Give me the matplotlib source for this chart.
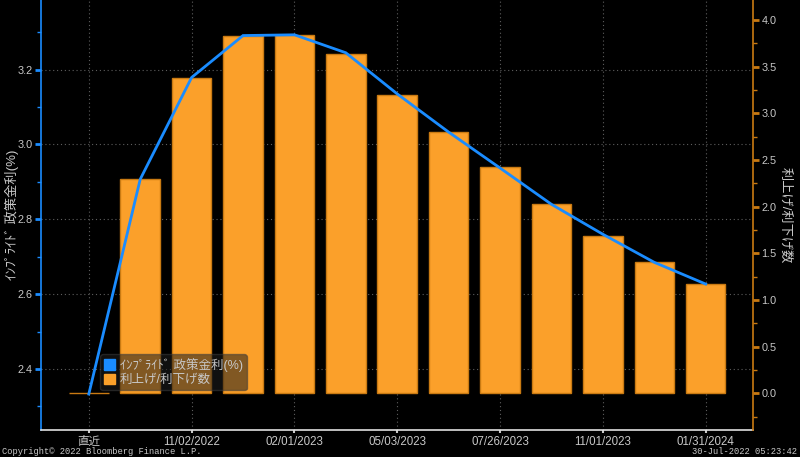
import matplotlib
matplotlib.use("Agg")
import matplotlib.pyplot as plt
from matplotlib.patches import Patch
from matplotlib.ticker import MultipleLocator
import numpy as np

plt.rcParams['font.family'] = ['Liberation Sans', 'Noto Sans CJK JP', 'DejaVu Sans']

# ---- data ----
meetings = ['直近', '09/21/2022', '11/02/2022', '12/14/2022', '02/01/2023',
            '03/22/2023', '05/03/2023', '06/14/2023', '07/26/2023',
            '09/20/2023', '11/01/2023', '12/13/2023', '01/31/2024']
implied_rate = [2.333, 2.907, 3.179, 3.291, 3.293, 3.245, 3.135,
                3.033, 2.937, 2.840, 2.760, 2.685, 2.627]
hikes_cuts = [0.0, 2.30, 3.38, 3.83, 3.84, 3.64, 3.20,
              2.80, 2.42, 2.03, 1.69, 1.41, 1.17]
label_every = 2

BG = '#000000'
TXT = '#c8c8c8'
BLUE = '#1a8cff'
ORANGE = '#fba02a'
ORANGE_EDGE = '#c97a12'
GRID = '#5e5e5e'

x = np.arange(len(meetings))

fig = plt.figure(figsize=(8.0, 4.57), dpi=100, facecolor=BG)
pos = [41/800, 27/457, 712/800, 430/457]

# base axes: left scale, background + grid
ax = fig.add_axes(pos)
ax.set_facecolor(BG)
ax.set_xlim(-0.93, 12.92)
ax.set_ylim(2.237, 3.386)
ax.yaxis.set_major_locator(MultipleLocator(0.2))
ax.yaxis.set_minor_locator(MultipleLocator(0.1))
xt = x[::label_every]
ax.set_xticks(xt)
ax.set_xticklabels([meetings[i] for i in xt], fontsize=8.3, color=TXT)
ax.grid(True, which='major', color=GRID, linestyle=(0, (1, 2.5)), linewidth=0.8)
ax.tick_params(axis='x', colors=TXT, length=2, width=1.5, pad=2, labelcolor=TXT)
ax.tick_params(axis='y', which='major', colors=BLUE, length=4, width=2, labelcolor=TXT,
               labelsize=7.8, pad=2)
ax.tick_params(axis='y', which='minor', colors=BLUE, length=3, width=1)
ax.yaxis.set_major_formatter(matplotlib.ticker.FormatStrFormatter('%.1f'))
for s in ['top', 'right']:
    ax.spines[s].set_visible(False)
ax.spines['left'].set_color(BLUE)
ax.spines['left'].set_linewidth(1.2)
ax.spines['bottom'].set_color('#e0e0e0')
ax.spines['bottom'].set_linewidth(1.2)
ax.set_ylabel('ｲﾝﾌﾟﾗｲﾄﾞ 政策金利(%)', color=TXT, fontsize=9.5)
ax.yaxis.set_label_coords(-0.031, 0.5)

# bars: right scale
ax2 = ax.twinx()
ax2.set_zorder(ax.get_zorder() + 1)
ax2.patch.set_visible(False)
ax2.bar(x, hikes_cuts, width=0.77, color=ORANGE, edgecolor=ORANGE_EDGE, linewidth=1.0)
ax2.set_ylim(-0.393, 4.214)
ax2.yaxis.set_major_locator(MultipleLocator(0.5))
ax2.yaxis.set_minor_locator(MultipleLocator(0.25))
ax2.yaxis.set_major_formatter(matplotlib.ticker.FormatStrFormatter('%.1f'))
ax2.tick_params(axis='y', which='major', colors=ORANGE_EDGE, length=4, width=2,
                labelcolor=TXT, labelsize=7.8, pad=2)
ax2.tick_params(axis='y', which='minor', colors=ORANGE_EDGE, length=3, width=1)
for s in ['top', 'left', 'bottom']:
    ax2.spines[s].set_visible(False)
ax2.spines['right'].set_color(ORANGE_EDGE)
ax2.spines['right'].set_linewidth(1.2)
ax2.set_ylabel('利上げ/利下げ数', color=TXT, fontsize=9.5, rotation=270)
ax2.yaxis.set_label_coords(1.054, 0.5)

# line: left scale, on top
ax3 = fig.add_axes(pos, sharex=ax, sharey=ax)
ax3.set_zorder(ax2.get_zorder() + 1)
ax3.patch.set_visible(False)
ax3.plot(x, implied_rate, color=BLUE, linewidth=2.0, solid_joinstyle='miter')
ax3.axis('off')

handles = [Patch(facecolor=BLUE, edgecolor=BLUE),
           Patch(facecolor=ORANGE, edgecolor=ORANGE)]
leg = ax3.legend(handles, ['ｲﾝﾌﾟﾗｲﾄﾞ 政策金利(%)', '利上げ/利下げ数'],
                 loc='lower left', bbox_to_anchor=(0.083, 0.093), borderaxespad=0,
                 frameon=True, fancybox=True, facecolor='#1e1e1e', edgecolor='#3c3c3c',
                 framealpha=0.55, fontsize=9, labelcolor=TXT,
                 handlelength=0.9, handleheight=0.9, handletextpad=0.4,
                 borderpad=0.3, labelspacing=0.15)

fig.text(2/800, 1 - 451/457, 'Copyright© 2022 Bloomberg Finance L.P.', family='Liberation Mono',
         fontsize=6.3, color=TXT, va='center', ha='left')
fig.text(797/800, 1 - 451/457, '30-Jul-2022 05:23:42', family='Liberation Mono',
         fontsize=6.3, color=TXT, va='center', ha='right')

fig.savefig('out.png', dpi=100, facecolor=BG)
